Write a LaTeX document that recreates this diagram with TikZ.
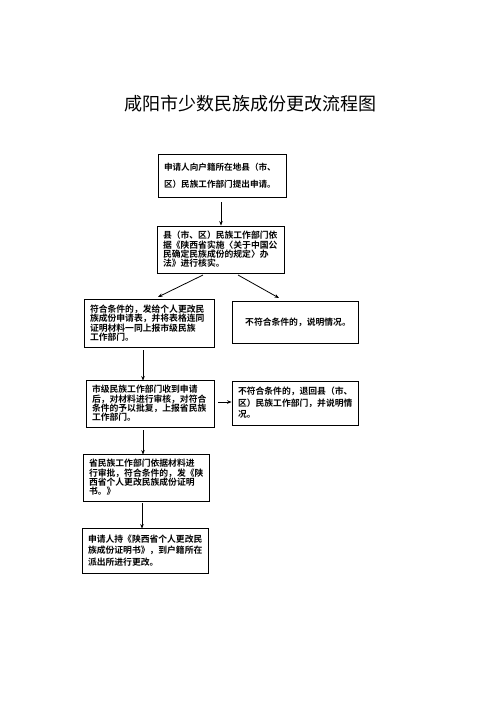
\documentclass[tikz,border=0pt]{standalone}
\usepackage{fontspec}
\newfontfamily\cjk{Noto Sans CJK SC}[BoldFont={Noto Sans CJK SC Bold}]
\usetikzlibrary{arrows.meta}
\tikzset{
  box/.style={draw, line width=0.9pt, inner xsep=6pt, inner ysep=2pt, align=left,
    font=\cjk\bfseries\fontsize{8.8}{9.3}\selectfont},
  arr/.style={draw, line width=0.8pt, -{Stealth[length=4.5pt,width=3.5pt]}},
}
\begin{document}
\begin{tikzpicture}[x=1pt,y=-1pt]
\useasboundingbox (0,0) rectangle (496,702);
\fill[white] (0,0) rectangle (496,702);
\node[font=\cjk\fontsize{18}{20}\selectfont] (title) at (250,104) {咸阳市少数民族成份更改流程图};

\node[box, minimum width=128pt, minimum height=43pt, text width=116pt,
  font=\cjk\bfseries\fontsize{8.6}{17}\selectfont] (b1) at (222,175.5)
  {申请人向户籍所在地县（市、\\区）民族工作部门提出申请。};
\node[box, minimum width=127pt, minimum height=47pt, text width=115pt] (b2) at (220.5,249.5)
  {县（市、区）民族工作部门依\\据《陕西省实施〈关于中国公\\民确定民族成份的规定〉办\\法》进行核实。};
\node[box, minimum width=130pt, minimum height=48pt, text width=118pt] (b3) at (149,323)
  {符合条件的，发给个人更改民\\族成份申请表，并将表格连同\\证明材料一同上报市级民族\\工作部门。};
\node[box, minimum width=126pt, minimum height=42pt, text width=114pt, align=center] (b4) at (295,322)
  {\hspace*{6pt}不符合条件的，说明情况。};
\node[box, minimum width=128pt, minimum height=47pt, text width=116pt] (b5) at (150,403.5)
  {市级民族工作部门收到申请\\后，对材料进行审核，对符合\\条件的予以批复，上报省民族\\工作部门。};
\node[box, minimum width=126pt, minimum height=44pt, text width=114pt,
  font=\cjk\bfseries\fontsize{8.8}{11.5}\selectfont] (b6) at (295,403)
  {不符合条件的，退回县（市、\\区）民族工作部门，并说明情\\况。};
\node[box, minimum width=126pt, minimum height=47pt, text width=114pt] (b7) at (146,477.5)
  {省民族工作部门依据材料进\\行审批，符合条件的，发《陕\\西省个人更改民族成份证明\\书。》};
\node[box, minimum width=126pt, minimum height=45pt, text width=114pt,
  font=\cjk\bfseries\fontsize{8.8}{11.5}\selectfont] (b8) at (145,550.5)
  {申请人持《陕西省个人更改民\\族成份证明书》，到户籍所在\\派出所进行更改。};

\coordinate (a1s) at (221,202);
\coordinate (a2s) at (203,275);
\coordinate (a2e) at (158,297);
\coordinate (a3s) at (238,275);
\coordinate (a3e) at (279,298);
\draw[arr] (a1s) -- (a1s |- b2.north);
\draw[arr] (a2s) -- (a2e);
\draw[arr] (a3s) -- (a3e);
\coordinate (a4s) at (143,350);
\draw[arr] (a4s) -- ([yshift=-1pt]a4s |- b5.north);
\coordinate (a5s) at (218,402);
\draw[arr] (a5s) -- (b6.west |- a5s);
\coordinate (a6s) at (143,430);
\draw[arr] (a6s) -- ([yshift=-1pt]a6s |- b7.north);
\coordinate (a7s) at (142,503);
\draw[arr] (a7s) -- ([yshift=-1pt]a7s |- b8.north);
\end{tikzpicture}
\end{document}
